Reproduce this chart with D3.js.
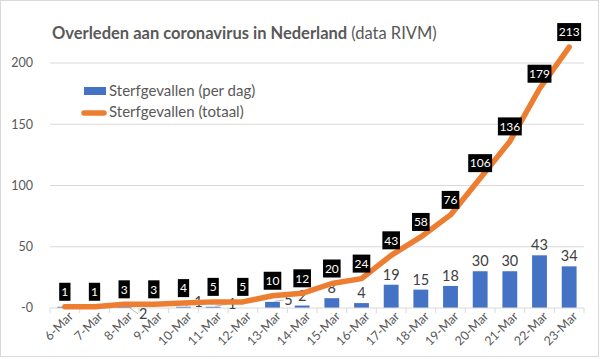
<!DOCTYPE html>
<html>
<head>
<meta charset="utf-8">
<script src="https://cdn.jsdelivr.net/npm/d3@7"></script>
<style>
  body { margin: 0; background: #fff; }
  text { font-family: Lato, "Open Sans", sans-serif; }
</style>
</head>
<body>
<div id="chart"></div>
<script>
var days = ["6-Mar", "7-Mar", "8-Mar", "9-Mar", "10-Mar", "11-Mar", "12-Mar", "13-Mar", "14-Mar",
            "15-Mar", "16-Mar", "17-Mar", "18-Mar", "19-Mar", "20-Mar", "21-Mar", "22-Mar", "23-Mar"];
var perDag = [1, 0, 2, 0, 1, 1, 0, 5, 2, 8, 4, 19, 15, 18, 30, 30, 43, 34];
var totaal = [1, 1, 3, 3, 4, 5, 5, 10, 12, 20, 24, 43, 58, 76, 106, 136, 179, 213];
var yTicks = [0, 50, 100, 150, 200];

var width = 601, height = 359;
var svg = d3.select("#chart").append("svg")
    .attr("width", width).attr("height", height);

// outer border
svg.append("rect")
   .attr("x", 0.5).attr("y", 0.5).attr("width", 598).attr("height", 356)
   .attr("fill", "#fff").attr("stroke", "#d9d9d9");

var x = d3.scaleBand().domain(days).range([50, 584]);
var y = d3.scaleLinear().domain([0, 200]).range([308, 63]);

// gridlines
svg.selectAll(".grid")
   .data(yTicks.filter(function(d) { return d > 0; }))
   .enter().append("line")
   .attr("x1", 50).attr("x2", 584)
   .attr("y1", function(d) { return y(d); })
   .attr("y2", function(d) { return y(d); })
   .attr("stroke", "#d9d9d9");

// y labels
svg.selectAll(".ylab")
   .data(yTicks)
   .enter().append("text")
   .attr("x", 33)
   .attr("y", function(d) { return y(d); })
   .attr("dy", "0.35em")
   .attr("text-anchor", "end")
   .attr("font-size", 12.5)
   .attr("fill", "#595959")
   .text(function(d) { return d === 0 ? "-0" : d; });

// bars
svg.selectAll(".bar")
   .data(perDag)
   .enter().append("rect")
   .attr("x", function(d, i) { return x(days[i]) + x.bandwidth() * 0.25; })
   .attr("width", x.bandwidth() * 0.5)
   .attr("y", function(d) { return y(d); })
   .attr("height", function(d) { return y(0) - y(d); })
   .attr("fill", "#4472c4");

// x axis
svg.append("line")
   .attr("x1", 50).attr("x2", 584).attr("y1", 308).attr("y2", 308)
   .attr("stroke", "#d9d9d9");
svg.selectAll(".tick")
   .data(days.concat(["end"]))
   .enter().append("line")
   .attr("x1", function(d, i) { return 50 + i * x.step(); })
   .attr("x2", function(d, i) { return 50 + i * x.step(); })
   .attr("y1", 308).attr("y2", 313)
   .attr("stroke", "#d9d9d9");
svg.selectAll(".xlab")
   .data(days)
   .enter().append("text")
   .attr("transform", function(d) {
     return "translate(" + (x(d) + x.bandwidth() / 2 + 6) + ",314) rotate(-45)";
   })
   .attr("text-anchor", "end")
   .attr("dy", "0.35em")
   .attr("font-size", 12.5)
   .attr("fill", "#595959")
   .text(function(d) { return d; });

// bar labels (Excel moved a few small ones aside with leader lines)
var nudge = {2: [19, 6], 4: [15, -6], 5: [19, -4], 7: [16, -8]};
perDag.forEach(function(d, i) {
  if (d === 0 || i === 0) return;
  var cx = x(days[i]) + x.bandwidth() / 2;
  var lx = cx, ly = y(d) - 10;
  if (nudge[i]) {
    lx = cx + nudge[i][0];
    ly = y(0) + nudge[i][1];
    svg.append("line")
       .attr("x1", cx + 2).attr("y1", y(d) - 0.5)
       .attr("x2", lx - 5).attr("y2", ly)
       .attr("stroke", "#a6a6a6").attr("stroke-width", 0.8);
  }
  svg.append("text")
     .attr("x", lx).attr("y", ly)
     .attr("dy", "0.35em")
     .attr("text-anchor", "middle")
     .attr("font-size", 14.5)
     .attr("fill", "#404040")
     .text(d);
});

// cumulative line
var line = d3.line()
    .x(function(d, i) { return x(days[i]) + x.bandwidth() / 2; })
    .y(function(d) { return y(d); });
svg.append("path")
   .datum(totaal)
   .attr("d", line)
   .attr("fill", "none")
   .attr("stroke", "#ed7d31")
   .attr("stroke-width", 5.5)
   .attr("stroke-linejoin", "round")
   .attr("stroke-linecap", "round");

// line labels in black boxes
var lab = svg.selectAll(".tlab")
   .data(totaal)
   .enter().append("g")
   .attr("transform", function(d, i) {
     return "translate(" + (x(days[i]) + x.bandwidth() / 2) + "," + (y(d) - 15) + ")";
   });
lab.append("rect")
   .attr("x", function(d) { var w = String(d).length * 6.3 + 5; return -w / 2; })
   .attr("width", function(d) { return String(d).length * 6.3 + 5; })
   .attr("y", -9).attr("height", 18)
   .attr("fill", "#000");
lab.append("text")
   .attr("text-anchor", "middle")
   .attr("dy", "0.36em")
   .attr("font-size", 12)
   .attr("fill", "#fff")
   .text(function(d) { return d; });

// title
var title = svg.append("text")
   .attr("x", 52).attr("y", 39)
   .attr("font-size", 16.5)
   .attr("fill", "#595959");
title.append("tspan").attr("font-weight", "bold").text("Overleden aan coronavirus in Nederland ");
title.append("tspan").text("(data RIVM)");

// legend
svg.append("rect")
   .attr("x", 84).attr("y", 87).attr("width", 22).attr("height", 8)
   .attr("fill", "#4472c4");
svg.append("line")
   .attr("x1", 84).attr("x2", 104).attr("y1", 113).attr("y2", 113)
   .attr("stroke", "#ed7d31").attr("stroke-width", 5.5)
   .attr("stroke-linecap", "round");
svg.selectAll(".leg")
   .data(["Sterfgevallen (per dag)", "Sterfgevallen (totaal)"])
   .enter().append("text")
   .attr("x", 109)
   .attr("y", function(d, i) { return 91 + i * 21; })
   .attr("dy", "0.35em")
   .attr("font-size", 15)
   .attr("fill", "#595959")
   .text(function(d) { return d; });
</script>
</body>
</html>
